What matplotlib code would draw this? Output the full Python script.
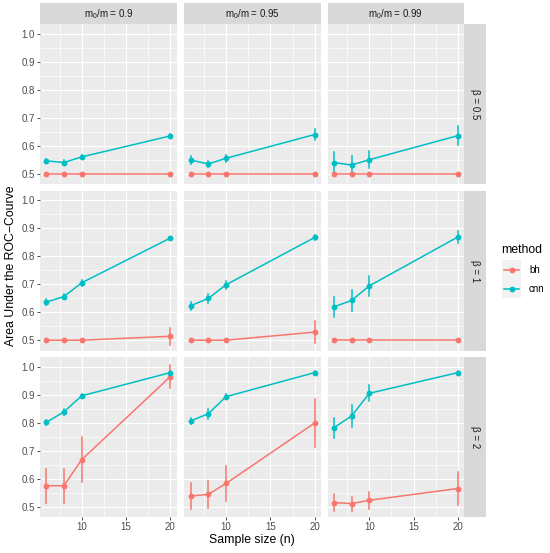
import matplotlib
matplotlib.use("Agg")
import matplotlib.pyplot as plt
from matplotlib.ticker import MultipleLocator

plt.rcParams["font.family"] = ["Liberation Sans", "DejaVu Sans"]
plt.rcParams["mathtext.fontset"] = "custom"
plt.rcParams["mathtext.rm"] = "Liberation Sans"
plt.rcParams["mathtext.it"] = "Liberation Sans"

# data -------------------------------------------------------------------
sample_sizes = [6, 8, 10, 20]
ratio_labels = ["0.9", "0.95", "0.99"]
beta_labels = ["0.5", "1", "2"]
methods = ["bh", "cnn"]
method_colors = {"bh": "#F8766D", "cnn": "#00BFC4"}

# [beta row][m0/m column] -> mean AUC per sample size
cnn_auc = [
    [[0.546, 0.540, 0.560, 0.635], [0.549, 0.535, 0.555, 0.640], [0.540, 0.531, 0.550, 0.636]],
    [[0.636, 0.656, 0.705, 0.865], [0.623, 0.649, 0.698, 0.867], [0.619, 0.642, 0.694, 0.869]],
    [[0.801, 0.839, 0.896, 0.979], [0.806, 0.832, 0.893, 0.979], [0.782, 0.824, 0.905, 0.979]],
]
cnn_err = [
    [[0.008, 0.008, 0.008, 0.006], [0.015, 0.012, 0.013, 0.018], [0.036, 0.034, 0.030, 0.035]],
    [[0.010, 0.010, 0.010, 0.005], [0.015, 0.015, 0.015, 0.008], [0.036, 0.036, 0.035, 0.022]],
    [[0.008, 0.010, 0.005, 0.005], [0.012, 0.017, 0.008, 0.004], [0.036, 0.038, 0.029, 0.004]],
]
bh_auc = [
    [[0.500, 0.500, 0.500, 0.500], [0.500, 0.500, 0.500, 0.500], [0.500, 0.500, 0.500, 0.500]],
    [[0.500, 0.500, 0.500, 0.514], [0.500, 0.500, 0.500, 0.529], [0.500, 0.500, 0.500, 0.500]],
    [[0.575, 0.575, 0.668, 0.965], [0.538, 0.544, 0.583, 0.799], [0.515, 0.511, 0.523, 0.565]],
]
bh_err = [
    [[0.002, 0.002, 0.002, 0.002], [0.002, 0.002, 0.002, 0.002], [0.002, 0.002, 0.002, 0.002]],
    [[0.003, 0.003, 0.003, 0.030], [0.003, 0.003, 0.003, 0.039], [0.002, 0.002, 0.002, 0.002]],
    [[0.060, 0.060, 0.080, 0.040], [0.046, 0.048, 0.063, 0.085], [0.030, 0.025, 0.030, 0.058]],
]

x_label = "Sample size (n)"
y_label = "Area Under the ROC\u2212Courve"
legend_title = "method"

# layout (pixels) ---------------------------------------------------------
W, H = 550, 553
DPI = 100
col_left = [40.0, 184.3, 327.6]
col_w = 136.6
row_top = [24.2, 190.7, 357.2]
row_h = 160.0
strip_h = 20.9
strip_w = 21.5

PANEL_BG = "#EBEBEB"
STRIP_BG = "#D9D9D9"
TICK_C = "#4D4D4D"
TICK_SIZE = 7.0
TITLE_SIZE = 8.8

fig = plt.figure(figsize=(W / DPI, H / DPI), dpi=DPI)


def px_rect(x0, y0, w, h):
    return [x0 / W, 1 - (y0 + h) / H, w / W, h / H]


def draw_series(ax, means, errs, color):
    ax.plot(sample_sizes, means, color=color, lw=1.1, zorder=3, solid_capstyle="butt")
    for x, m, e in zip(sample_sizes, means, errs):
        ax.plot([x, x], [m - e, m + e], color=color, lw=1.1, zorder=3)
    ax.plot(sample_sizes, means, "o", color=color, ms=4.2, mew=0, zorder=4)


def bare(ax, bg):
    ax.set_facecolor(bg)
    ax.set_xticks([])
    ax.set_yticks([])
    for s in ax.spines.values():
        s.set_visible(False)


series = {"bh": (bh_auc, bh_err), "cnn": (cnn_auc, cnn_err)}
y_ticks = [0.5, 0.6, 0.7, 0.8, 0.9, 1.0]

for r in range(3):
    for c in range(3):
        ax = fig.add_axes(px_rect(col_left[c], row_top[r], col_w, row_h))
        ax.set_facecolor(PANEL_BG)
        for s in ax.spines.values():
            s.set_visible(False)
        ax.set_xlim(5.3, 20.7)
        ax.set_ylim(0.4625, 1.034)
        ax.xaxis.set_minor_locator(MultipleLocator(2.5))
        ax.yaxis.set_minor_locator(MultipleLocator(0.05))
        ax.set_yticks(y_ticks)
        ax.set_xticks([10, 15, 20])
        ax.grid(which="major", color="white", lw=0.85)
        ax.grid(which="minor", color="white", lw=0.45)
        ax.set_axisbelow(True)
        ax.tick_params(which="minor", length=0)
        ax.tick_params(which="major", length=2.2, width=0.6, color="#333333",
                       labelsize=TICK_SIZE, labelcolor=TICK_C, pad=1.5)
        if c > 0:
            ax.tick_params(axis="y", length=0, labelleft=False)
        else:
            ax.set_yticklabels([f"{v:.1f}" for v in y_ticks])
        if r < 2:
            ax.tick_params(axis="x", length=0, labelbottom=False)

        for m in methods:
            means, errs = series[m]
            draw_series(ax, means[r][c], errs[r][c], method_colors[m])

# top strips
for c in range(3):
    sax = fig.add_axes(px_rect(col_left[c], row_top[0] - strip_h, col_w, strip_h))
    bare(sax, STRIP_BG)
    sax.text(0.5, 0.5, r"m$_0$/m = " + ratio_labels[c], ha="center", va="center",
             fontsize=TICK_SIZE, color="#1A1A1A", transform=sax.transAxes)

# right strips
strip_x = col_left[2] + col_w
for r in range(3):
    sax = fig.add_axes(px_rect(strip_x, row_top[r], strip_w, row_h))
    bare(sax, STRIP_BG)
    sax.text(0.5, 0.5, "\u03b2 = " + beta_labels[r], ha="center", va="center",
             rotation=-90, fontsize=TICK_SIZE, color="#1A1A1A", transform=sax.transAxes)

# axis titles
fig.text((col_left[0] + col_left[2] + col_w) / 2 / W, 1 - 540 / H, x_label,
         ha="center", va="center", fontsize=TITLE_SIZE, color="black")
fig.text(11 / W, 1 - 266 / H, y_label,
         ha="center", va="center", rotation=90, fontsize=TITLE_SIZE, color="black")

# legend
fig.text(501 / W, 1 - 250 / H, legend_title, ha="left", va="center",
         fontsize=TITLE_SIZE, color="black")
key_centers = [269.7, 288.7]
for m, yc in zip(methods, key_centers):
    kax = fig.add_axes(px_rect(502, yc - 9.5, 19, 19))
    bare(kax, "#F2F2F2")
    kax.set_xlim(0, 1)
    kax.set_ylim(0, 1)
    kax.plot([0.08, 0.92], [0.5, 0.5], color=method_colors[m], lw=1.1)
    kax.plot([0.5], [0.5], "o", color=method_colors[m], ms=4.2, mew=0)
    fig.text(529 / W, 1 - yc / H, m, ha="left", va="center",
             fontsize=TICK_SIZE, color="black")

fig.savefig("out.png", dpi=DPI, facecolor="white")
